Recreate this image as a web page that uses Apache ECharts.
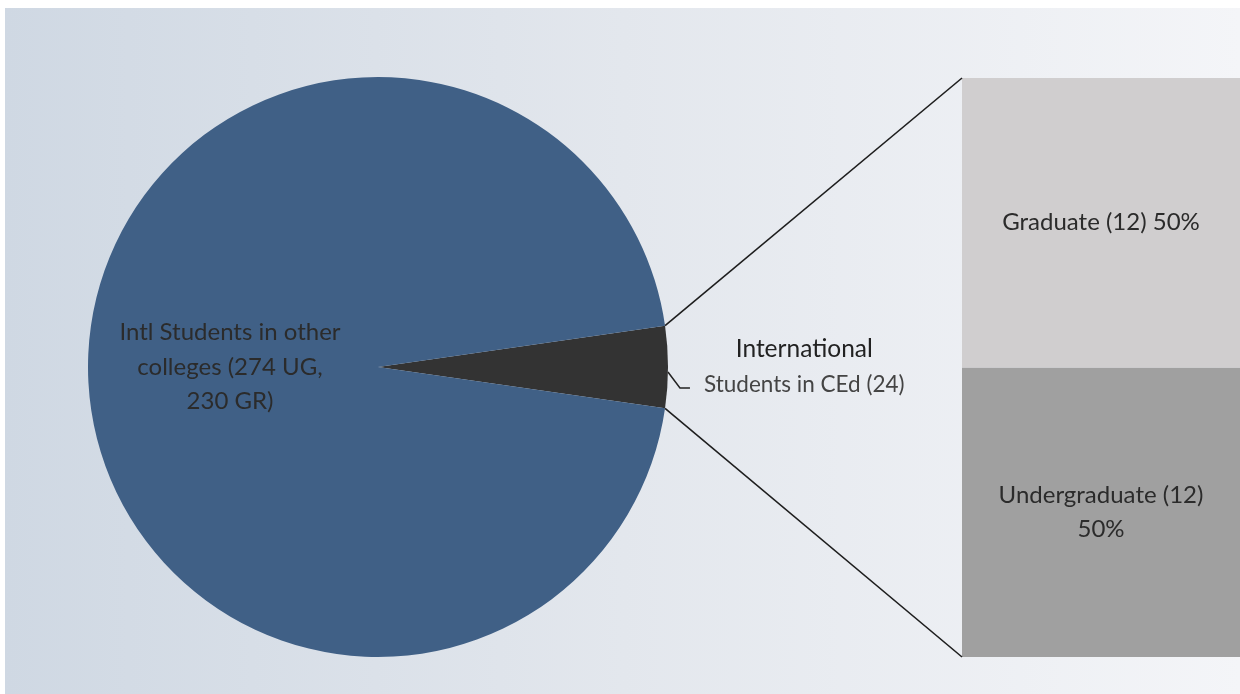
<!DOCTYPE html>
<html>
<head>
<meta charset="utf-8">
<script src="https://cdn.jsdelivr.net/npm/echarts@6/dist/echarts.min.js"></script>
<style>
  html, body { margin: 0; padding: 0; background: #ffffff; }
  #chart { width: 1240px; height: 694px; }
</style>
</head>
<body>
<div id="chart"></div>
<script>
// pie: international students, CEd vs other colleges
const pieNames = ['International\nStudents in CEd', 'Intl Students in other\ncolleges (274 UG,\n230 GR)'];
const pieValues = [24, 504];
// bar: breakdown of the CEd slice
const barNames = ['Undergraduate', 'Graduate'];
const barValues = [12, 12];

const FONT = 'Lato, "Noto Sans", sans-serif';
const pieCenter = [378, 367];
const pieRadius = 290;

const total = pieValues.reduce((a, b) => a + b, 0);
const smallAngle = pieValues[0] / total * 360;
const startAngle = smallAngle / 2;
const barTotal = barValues.reduce((a, b) => a + b, 0);

// leader line of the small slice: starts a little below the slice middle
const leadStart = [pieCenter[0] + pieRadius * Math.cos(1 * Math.PI / 180), pieCenter[1] + pieRadius * Math.sin(1 * Math.PI / 180)];
const leadElbow = [leadStart[0] + 12, leadStart[1] + 16];
const leadEnd = [leadElbow[0] + 10, leadElbow[1]];

const chart = echarts.init(document.getElementById('chart'));

const option = {
  animation: false,
  graphic: [{
    type: 'rect',
    z: -10,
    silent: true,
    shape: { x: 5, y: 8, width: 1235, height: 686 },
    style: {
      fill: new echarts.graphic.LinearGradient(0, 0, 1, 0, [
        { offset: 0, color: '#cfd8e3' },
        { offset: 0.5, color: '#e3e7ed' },
        { offset: 1, color: '#f4f5f8' }
      ])
    }
  }],
  grid: { left: 962, right: 0, top: 78, bottom: 37 },
  xAxis: { type: 'category', data: ['CEd'], show: false },
  yAxis: { type: 'value', min: 0, max: barTotal, show: false },
  series: [
    {
      type: 'pie',
      center: pieCenter,
      radius: pieRadius,
      startAngle: startAngle,
      clockwise: true,
      silent: true,
      emphasis: { disabled: true },
      data: [
        {
          name: pieNames[0], value: pieValues[0],
          itemStyle: { color: '#333333' },
          label: {
            show: true,
            position: 'outside',
            distanceToLabelLine: 12,
            formatter: p => '{a|International}\n{b|Students in CEd (' + p.value + ')}',
            rich: {
              a: { fontFamily: FONT, fontSize: 24.5, color: '#222222', lineHeight: 36, align: 'center' },
              b: { fontFamily: FONT, fontSize: 22.5, color: '#444444', lineHeight: 36, align: 'center' }
            }
          },
          labelLine: { show: true, length: 14, length2: 10, lineStyle: { color: '#222', width: 1.5 } }
        },
        {
          name: pieNames[1], value: pieValues[1],
          itemStyle: { color: '#406086' },
          label: {
            show: true,
            position: 'inside',
            formatter: p => p.name,
            fontFamily: FONT, fontSize: 24, color: '#2b2b2b', lineHeight: 34.5, align: 'center'
          }
        }
      ],
      labelLayout: function (params) {
        if (params.dataIndex === 0) {
          return { labelLinePoints: [leadStart, leadElbow, leadEnd] };
        }
      }
    },
    {
      type: 'bar',
      name: barNames[0],
      stack: 'ced',
      barWidth: '100%',
      silent: true,
      data: [barValues[0]],
      itemStyle: { color: '#a0a0a0' },
      label: {
        show: true, position: 'inside',
        formatter: p => barNames[0] + ' (' + p.value + ')\n' + Math.round(p.value / barTotal * 100) + '%',
        fontFamily: FONT, fontSize: 24, color: '#2b2b2b', lineHeight: 34
      }
    },
    {
      type: 'bar',
      name: barNames[1],
      stack: 'ced',
      barWidth: '100%',
      silent: true,
      data: [barValues[1]],
      itemStyle: { color: '#d0cecf' },
      label: {
        show: true, position: 'inside',
        formatter: p => barNames[1] + ' (' + p.value + ') ' + Math.round(p.value / barTotal * 100) + '%',
        fontFamily: FONT, fontSize: 24, color: '#2b2b2b'
      }
    }
  ]
};
chart.setOption(option);

// connector lines from the small slice edges to the bar corners
const rad = startAngle * Math.PI / 180;
const pTop = [pieCenter[0] + pieRadius * Math.cos(rad), pieCenter[1] - pieRadius * Math.sin(rad)];
const pBot = [pieCenter[0] + pieRadius * Math.cos(rad), pieCenter[1] + pieRadius * Math.sin(rad)];
const rect = chart.getModel().getComponent('grid', 0).coordinateSystem.getRect();
const bTop = [rect.x, chart.convertToPixel({ yAxisIndex: 0 }, barTotal)];
const bBot = [rect.x, chart.convertToPixel({ yAxisIndex: 0 }, 0)];

chart.setOption({
  graphic: [
    option.graphic[0],
    { type: 'line', silent: true, z: 5, shape: { x1: pTop[0], y1: pTop[1], x2: bTop[0], y2: bTop[1] }, style: { stroke: '#1e1e1e', lineWidth: 1.6 } },
    { type: 'line', silent: true, z: 5, shape: { x1: pBot[0], y1: pBot[1], x2: bBot[0], y2: bBot[1] }, style: { stroke: '#1e1e1e', lineWidth: 1.6 } }
  ]
});
</script>
</body>
</html>
